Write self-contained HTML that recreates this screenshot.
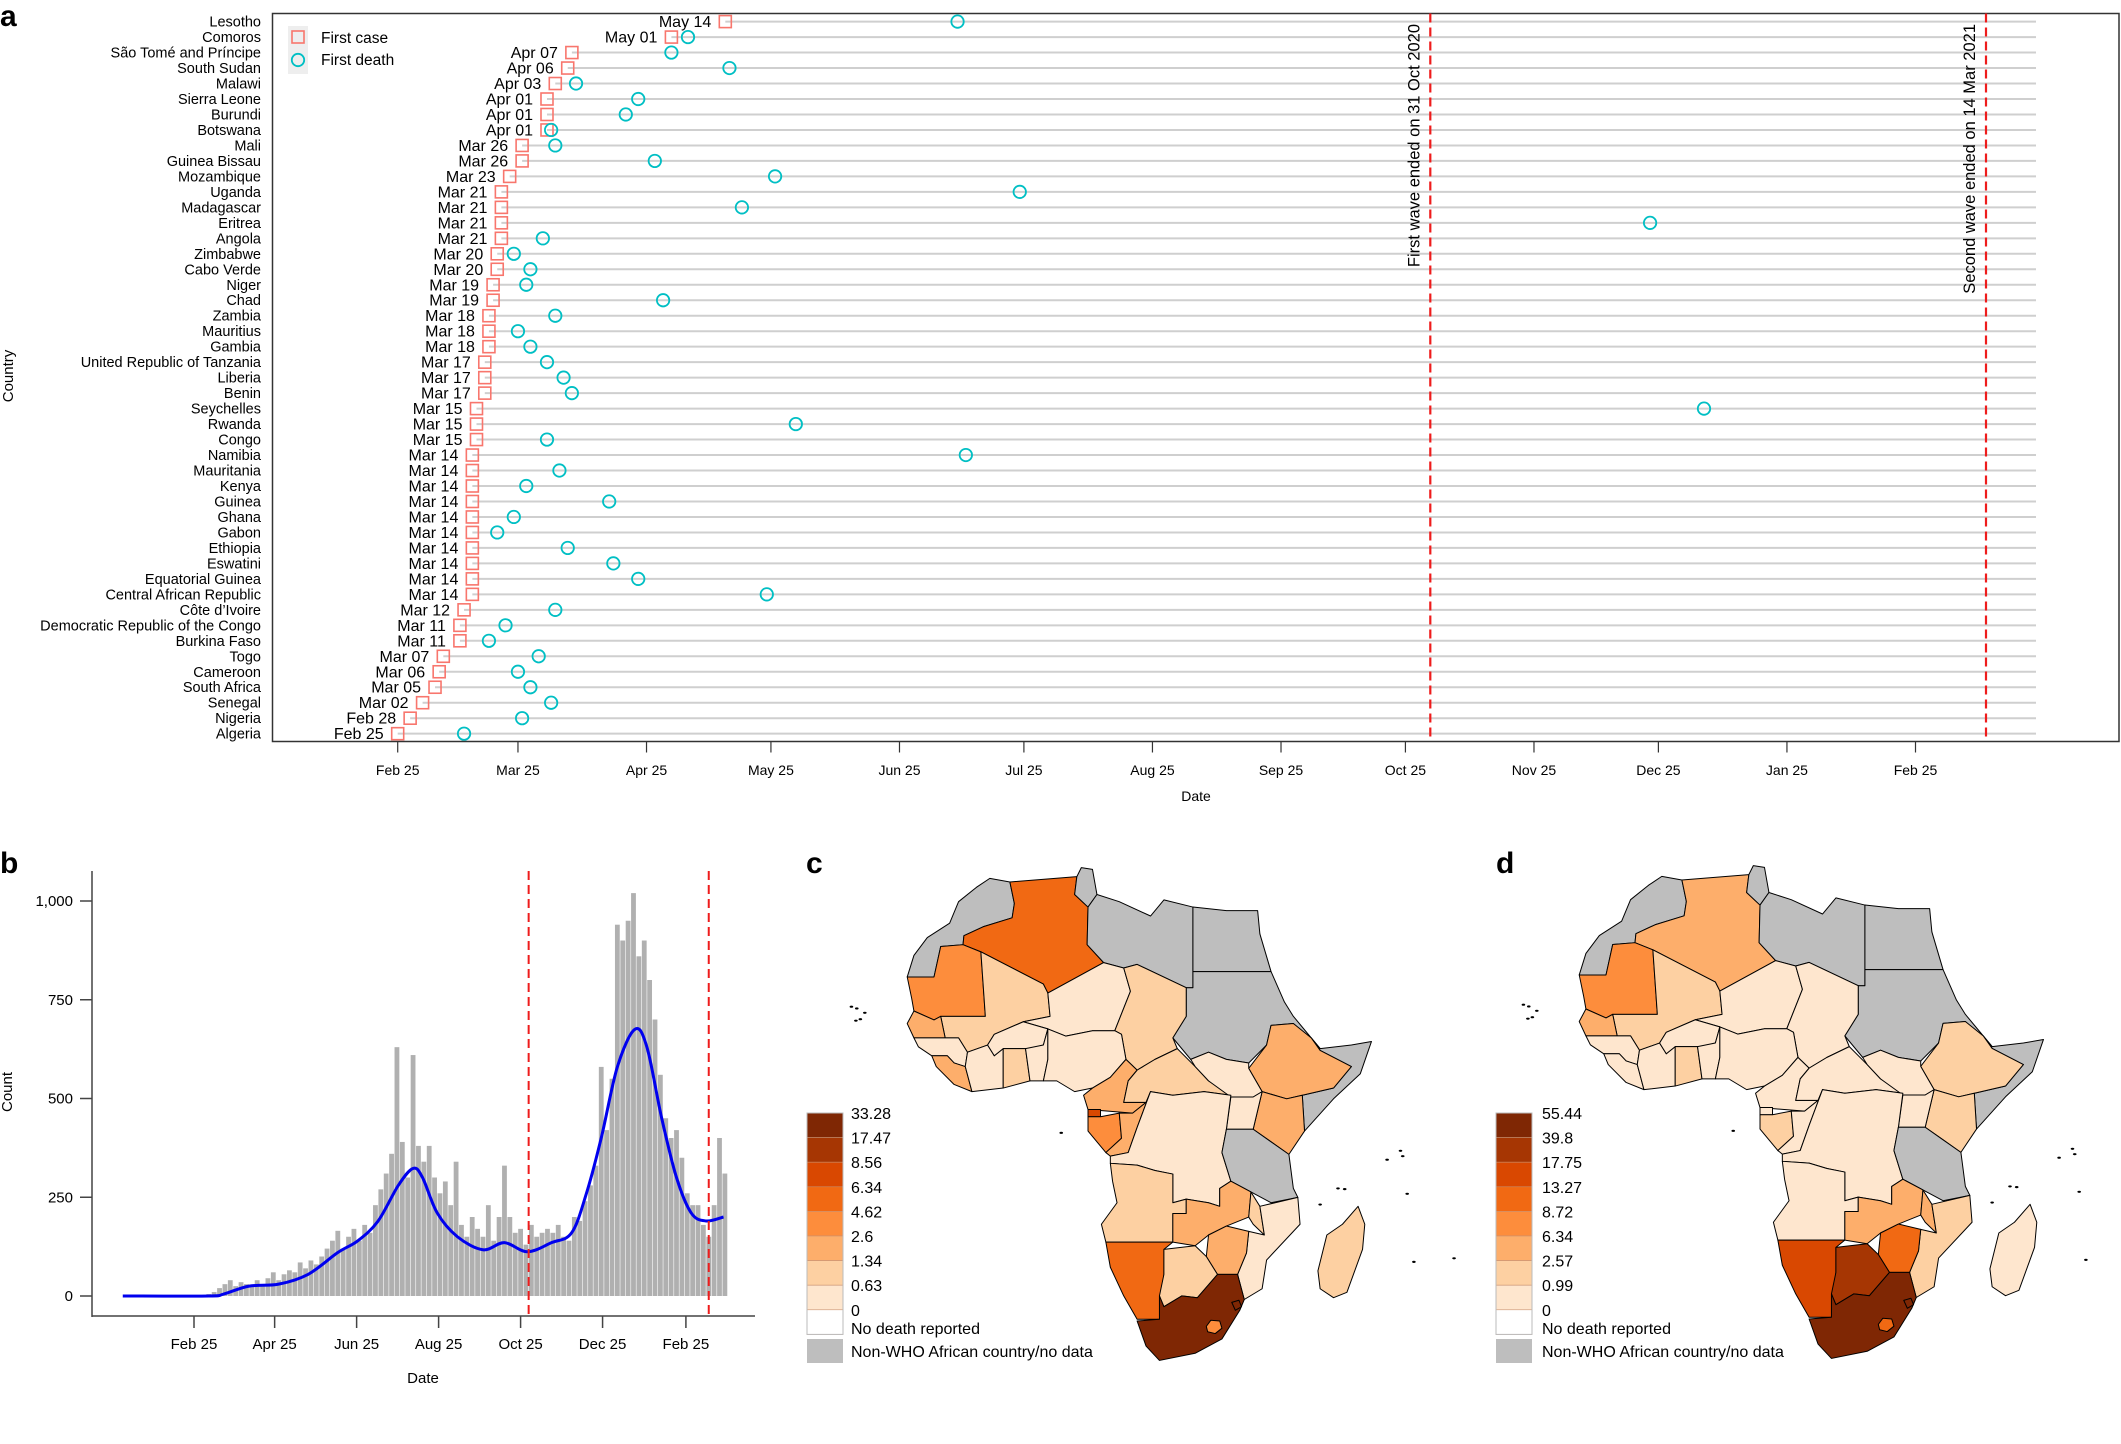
<!DOCTYPE html>
<html><head><meta charset="utf-8"><style>
html,body{margin:0;padding:0;background:#fff;}
svg{display:block;font-family:"Liberation Sans",sans-serif;}
</style></head><body>
<svg id="fig" width="2121" height="1444" viewBox="0 0 2121 1444" xmlns="http://www.w3.org/2000/svg">
<text x="0" y="26" font-size="30" font-weight="bold">a</text>
<text x="0" y="873" font-size="30" font-weight="bold">b</text>
<text x="806" y="873" font-size="30" font-weight="bold">c</text>
<text x="1496" y="873" font-size="30" font-weight="bold">d</text>
<g id="pa"></g>
<g id="pb"></g>
<g id="pc"></g>
<g id="pd"></g>
</svg>
<script>
// ---------- Panel a data ----------
const countries = ["Lesotho","Comoros","São Tomé and Príncipe","South Sudan","Malawi","Sierra Leone","Burundi","Botswana","Mali","Guinea Bissau","Mozambique","Uganda","Madagascar","Eritrea","Angola","Zimbabwe","Cabo Verde","Niger","Chad","Zambia","Mauritius","Gambia","United Republic of Tanzania","Liberia","Benin","Seychelles","Rwanda","Congo","Namibia","Mauritania","Kenya","Guinea","Ghana","Gabon","Ethiopia","Eswatini","Equatorial Guinea","Central African Republic","Côte d’Ivoire","Democratic Republic of the Congo","Burkina Faso","Togo","Cameroon","South Africa","Senegal","Nigeria","Algeria"];
const firstCase = ["May 14","May 01","Apr 07","Apr 06","Apr 03","Apr 01","Apr 01","Apr 01","Mar 26","Mar 26","Mar 23","Mar 21","Mar 21","Mar 21","Mar 21","Mar 20","Mar 20","Mar 19","Mar 19","Mar 18","Mar 18","Mar 18","Mar 17","Mar 17","Mar 17","Mar 15","Mar 15","Mar 15","Mar 14","Mar 14","Mar 14","Mar 14","Mar 14","Mar 14","Mar 14","Mar 14","Mar 14","Mar 14","Mar 12","Mar 11","Mar 11","Mar 07","Mar 06","Mar 05","Mar 02","Feb 28","Feb 25"];
// first death, days after 25 Feb 2020
const firstDeath = [135,70,66,80,43,58,55,37,38,62,91,150,83,302,35,28,32,31,64,38,29,32,36,40,42,315,96,36,137,39,31,51,28,24,41,52,58,89,38,26,22,34,29,32,37,30,16];
const aTickLabels = ["Feb 25","Mar 25","Apr 25","May 25","Jun 25","Jul 25","Aug 25","Sep 25","Oct 25","Nov 25","Dec 25","Jan 25","Feb 25"];
const aTickDays = [0,29,60,90,121,151,182,213,243,274,304,335,366];
const waveDays = [249,383];
const waveLabels = ["First wave ended on 31 Oct 2020","Second wave ended on 14 Mar 2021"];

// ---------- Panel b data ----------
const histStartDay = -53, histStep = 4;
const histCounts = [0,0,0,0,0,0,0,0,0,0,0,0,0,0,0,2,5,
10,20,30,40,25,35,30,28,40,30,45,60,40,55,65,60,85,70,90,80,100,120,140,165,120,150,170,140,180,160,230,270,310,360,630,390,300,610,380,340,380,300,260,290,230,340,180,150,200,170,150,230,140,200,330,200,160,170,130,180,150,160,170,160,180,150,140,200,190,240,280,330,580,420,550,940,900,950,1020,860,900,800,700,560,450,400,420,350,260,230,230,180,150,230,400,310];
const smoothDays = [-53,11,22,41,63,85,107,122,137,152,163,170,181,196,215,231,248,266,281,292,303,315,328,337,348,359,370,381,394];
const smoothVals = [0,0,5,25,30,55,110,140,190,280,323,300,210,150,117,135,112,135,160,260,400,580,675,630,450,300,210,190,200];
const bTickLabels = ["Feb 25","Apr 25","Jun 25","Aug  25","Oct 25","Dec 25","Feb 25"];
const bTickDays = [0,60,121,182,243,304,366];
const yTicks = [0,250,500,750,1000];
const yTickLabels = ["0","250","500","750","1,000"];

// ---------- Map data ----------
const cColors = ["#7f2704","#a63603","#d94801","#f16913","#fd8d3c","#fdae6b","#fdd0a2","#fee6ce","#ffffff"];
const cLegendLabels = ["33.28","17.47","8.56","6.34","4.62","2.6","1.34","0.63","0"];
const dLegendLabels = ["55.44","39.8","17.75","13.27","8.72","6.34","2.57","0.99","0"];
const mapNames = ["morocco","algeria","tunisia","libya","egypt","sudan","somalia","ethiopia","mauritania","mali","niger","chad","senegal","guinea","sierraliberia","cotedivoire","burkina","ghana","togobenin","nigeria","cameroon","car","southsudan","kenya","uganda","eqguinea","gabon","congo","drc","tanzania","angola","zambia","malawi","mozambique","zimbabwe","namibia","botswana","southafrica","lesotho","eswatini","madagascar"];
const cClass = [-1,3,-1,-1,-1,-1,-1,5,4,6,7,6,5,7,5,7,7,6,7,7,5,6,7,5,7,2,4,5,7,-1,6,5,6,7,5,3,6,0,4,0,6];
const dClass = [-1,5,-1,-1,-1,-1,-1,6,4,6,7,7,5,7,7,7,7,6,7,7,7,7,7,6,7,7,6,7,7,-1,7,5,5,6,3,2,1,0,3,0,7];

const NS="http://www.w3.org/2000/svg";
function mk(parent,tag,attrs,text){const e=document.createElementNS(NS,tag);for(const k in attrs)e.setAttribute(k,attrs[k]);if(text!==undefined)e.textContent=text;parent.appendChild(e);return e;}
const monthStart={Jan:0,Feb:31,Mar:60,Apr:91,May:121,Jun:152,Jul:182,Aug:213,Sep:244,Oct:274,Nov:305,Dec:335};
function dayOf(s){const p=s.split(" ");return monthStart[p[0]]+parseInt(p[1],10)-1-55;}

// ===== Panel a =====
(function(){
const g=document.getElementById('pa');
const xA=d=>397.7+d*4.147, rowY=i=>21.6+i*15.48;
const L=272.5,T=13.5,B=741.5,R=2119;
for(let i=0;i<countries.length;i++){
  const y=rowY(i), xc=xA(dayOf(firstCase[i])), xd=xA(firstDeath[i]);
  const gl=mk(g,'line',{x1:xc,y1:y,x2:2036,y2:y,stroke:'#cfcfcf','stroke-width':2});
  
  
  const lab=mk(g,'text',{x:261,y:y+5,'font-size':14.5,'text-anchor':'end'},countries[i]);
  
  
  const dl=mk(g,'text',{x:xc-14,y:y+5.5,'font-size':16,'text-anchor':'end'},firstCase[i]);
  
  
  const sq=mk(g,'rect',{x:xc-6,y:y-6,width:12,height:12,fill:'none',stroke:'#f8766d','stroke-width':1.6});
  
  
  const ci=mk(g,'circle',{cx:xd,cy:y,r:6.2,fill:'none',stroke:'#00bfc4','stroke-width':1.8});
  
  
}
const box=mk(g,'rect',{x:L,y:T,width:R-L,height:B-T,fill:'none',stroke:'#333','stroke-width':1.5});


for(let i=0;i<aTickDays.length;i++){
  const x=xA(aTickDays[i]);
  const t=mk(g,'line',{x1:x,y1:B,x2:x,y2:B+11,stroke:'#333','stroke-width':1.2});
  
  
  const tl=mk(g,'text',{x:x,y:775,'font-size':14,'text-anchor':'middle'},aTickLabels[i]);
  
  
}
for(let i=0;i<waveDays.length;i++){
  const x=xA(waveDays[i]);
  const wl=mk(g,'line',{x1:x,y1:T,x2:x,y2:B,stroke:'#ee1c1c','stroke-width':2.2,'stroke-dasharray':'9,5'});
  
  
  const wt=mk(g,'text',{x:0,y:0,'font-size':16.5,'text-anchor':'end',transform:`translate(${x-11},24) rotate(-90)`},waveLabels[i]);
  
  
}
const xt=mk(g,'text',{x:1196,y:801,'font-size':14,'text-anchor':'middle'},'Date');


const yt=mk(g,'text',{x:0,y:0,'font-size':15,'text-anchor':'middle',transform:'translate(13,376) rotate(-90)'},'Country');


const lg=mk(g,'g',{});


mk(lg,'rect',{x:288,y:26,width:20,height:48,fill:'#eeeeee'});
mk(lg,'rect',{x:292,y:31,width:12,height:12,fill:'none',stroke:'#f8766d','stroke-width':1.6});
mk(lg,'circle',{cx:298,cy:60,r:6.2,fill:'none',stroke:'#00bfc4','stroke-width':1.8});
const l1=mk(lg,'text',{x:321,y:43,'font-size':15.5},'First case');


const l2=mk(lg,'text',{x:321,y:65,'font-size':15.5},'First death');


})();

// ===== Panel b =====
(function(){
const g=document.getElementById('pb');
const xB=d=>194+d*1.344, yB=v=>1296-v*0.395;
for(let i=0;i<histCounts.length;i++){
  const d=histStartDay+i*histStep, v=histCounts[i];
  const r=mk(g,'rect',{x:xB(d)-2.4,y:yB(v),width:4.8,height:Math.max(0,1296-yB(v)),fill:'#b0b0b0'});
  
  
}
const pts=smoothDays.map((d,i)=>[xB(d),yB(smoothVals[i])]);
let p=`M${pts[0][0]},${pts[0][1]}`;
for(let i=0;i<pts.length-1;i++){
  const p0=pts[Math.max(0,i-1)],p1=pts[i],p2=pts[i+1],p3=pts[Math.min(pts.length-1,i+2)];
  const c1=[p1[0]+(p2[0]-p0[0])/6,p1[1]+(p2[1]-p0[1])/6],c2=[p2[0]-(p3[0]-p1[0])/6,p2[1]-(p3[1]-p1[1])/6];
  p+=` C${c1[0]},${c1[1]} ${c2[0]},${c2[1]} ${p2[0]},${p2[1]}`;
}
const sl=mk(g,'path',{d:p,fill:'none',stroke:'#0000ee','stroke-width':3});


for(const d of waveDays){
  const wl=mk(g,'line',{x1:xB(d),y1:871,x2:xB(d),y2:1316,stroke:'#ee1c1c','stroke-width':2,'stroke-dasharray':'9,5'});
  
  
}
const ya=mk(g,'line',{x1:92,y1:871,x2:92,y2:1317,stroke:'#444','stroke-width':1.5});


const xa=mk(g,'line',{x1:92,y1:1316,x2:755,y2:1316,stroke:'#444','stroke-width':1.5});


for(let i=0;i<yTicks.length;i++){
  const y=yB(yTicks[i]);
  mk(g,'line',{x1:80,y1:y,x2:92,y2:y,stroke:'#444','stroke-width':1.5});
  const t=mk(g,'text',{x:73,y:y+5,'font-size':15,'text-anchor':'end'},yTickLabels[i]);
  
  
}
for(let i=0;i<bTickDays.length;i++){
  const x=xB(bTickDays[i]);
  mk(g,'line',{x1:x,y1:1316,x2:x,y2:1328,stroke:'#444','stroke-width':1.5});
  const t=mk(g,'text',{x:x,y:1349,'font-size':15,'text-anchor':'middle'},bTickLabels[i]);
  
  
}
const xt=mk(g,'text',{x:423,y:1383,'font-size':15,'text-anchor':'middle'},'Date');


const yt=mk(g,'text',{x:0,y:0,'font-size':15,'text-anchor':'middle',transform:'translate(12,1092) rotate(-90)'},'Count');


})();

// ===== Maps =====
const shapes = {
morocco:"515,145 470,135 440,160 400,200 380,260 330,300 300,350 285,410 345,410 360,325 410,320 412,295 455,270 520,245 525,205",
algeria:"515,145 665,130 660,180 690,215 688,320 725,370 600,455 590,430 450,340 410,320 412,295 455,270 520,245 525,205",
tunisia:"665,130 675,105 700,110 710,180 690,215 660,180",
libya:"690,215 710,180 760,200 830,240 860,195 925,215 925,440 910,440 800,375 770,385 725,370 688,320",
egypt:"925,215 1000,225 1070,225 1075,290 1100,395 925,395",
sudan:"925,395 1100,395 1130,480 1150,520 1190,580 1210,610 1150,540 1100,545 1090,600 1050,650 1000,640 960,620 920,640 880,580 910,520 910,440 925,440",
somalia:"1190,580 1210,610 1280,600 1325,590 1300,680 1240,750 1175,840 1170,740 1240,720 1280,660 1210,615",
ethiopia:"1100,545 1150,540 1190,580 1210,615 1280,660 1240,720 1170,740 1135,750 1080,730 1050,665 1090,600",
mauritania:"285,410 345,410 360,325 410,320 450,340 460,520 360,520 345,530 300,505 295,470",
mali:"450,340 590,430 600,455 605,520 545,535 480,570 465,600 420,620 400,580 370,580 360,520 460,520",
niger:"600,455 725,370 770,385 785,450 750,560 700,560 640,575 600,555 545,535 605,520",
chad:"785,450 770,385 800,375 910,440 910,520 880,580 890,610 840,640 800,670 775,640 765,570 750,560",
senegal:"300,505 345,530 360,520 370,580 300,580 285,540",
guinea:"300,580 370,580 400,580 420,620 415,660 390,650 375,630 340,630 310,605",
sierraliberia:"340,630 375,630 390,650 415,660 430,730 390,710 350,660",
cotedivoire:"415,660 420,620 465,600 480,630 500,610 500,720 430,730",
burkina:"465,600 480,570 545,535 600,555 590,600 560,610 500,610 480,630",
ghana:"500,610 550,610 560,700 500,720",
togobenin:"550,610 590,600 600,555 600,640 590,700 560,700",
nigeria:"600,555 640,575 700,560 750,560 765,570 775,640 740,690 700,720 660,730 620,700 590,700 600,640",
cameroon:"775,640 800,670 780,700 770,760 820,760 790,790 690,780 680,740 700,720 740,690",
car:"800,670 840,640 890,610 930,660 960,700 1010,740 950,730 880,740 830,730 820,760 770,760 780,700",
southsudan:"920,640 960,620 1000,640 1050,650 1050,665 1080,730 1060,745 1010,745 960,700 930,660",
kenya:"1080,730 1135,750 1170,740 1175,840 1140,905 1100,870 1060,835",
uganda:"1010,745 1060,745 1080,730 1060,835 1000,835",
eqguinea:"690,780 718,780 718,800 690,800",
gabon:"690,800 718,800 760,790 765,860 730,900 690,840",
congo:"760,790 790,790 820,760 830,730 800,830 780,900 740,910 730,900 765,860",
drc:"830,730 880,740 950,730 1010,740 1000,835 990,900 1010,980 985,1000 985,1050 960,1040 910,1030 880,1040 880,960 840,950 800,935 740,930 740,910 780,900 800,830",
tanzania:"1000,835 1060,835 1100,870 1140,905 1150,1000 1160,1025 1100,1040 1055,1010 1010,980 990,900",
angola:"740,930 800,935 840,950 880,960 880,1040 910,1030 910,1070 880,1070 880,1150 820,1150 730,1150 720,1100 755,1040 745,980",
zambia:"880,1070 910,1070 910,1030 960,1040 985,1050 985,1000 1010,980 1055,1010 1050,1080 1000,1105 960,1130 930,1160 880,1150",
malawi:"1055,1010 1075,1050 1085,1130 1060,1100 1050,1080",
mozambique:"1075,1050 1160,1025 1165,1100 1090,1200 1080,1280 1040,1310 1025,1240 1045,1180 1050,1120 1085,1130",
zimbabwe:"960,1130 1000,1105 1050,1120 1045,1180 1025,1240 980,1240 955,1190",
namibia:"730,1150 820,1150 880,1150 860,1170 860,1240 850,1365 800,1365 770,1300 740,1220",
botswana:"860,1170 930,1160 955,1190 980,1240 935,1305 900,1300 860,1330 850,1300 860,1240",
southafrica:"850,1300 860,1330 900,1300 935,1305 980,1240 1025,1240 1040,1310 1030,1340 990,1420 930,1460 850,1480 820,1440 800,1370 850,1365",
lesotho:"955,1385 965,1368 985,1370 990,1390 975,1405 958,1400",
eswatini:"1012,1318 1028,1312 1034,1330 1020,1340",
madagascar:"1295,1050 1310,1100 1305,1170 1270,1290 1240,1305 1210,1280 1205,1230 1225,1130 1260,1100"
};
const islands=[[160,493],[172,498],[190,510],[180,528],[170,532],[1390,895],[1395,910],[1360,920],[1250,1000],[1265,1002],[1210,1045],[1420,1205],[1510,1195],[630,845],[1405,1015]];
function drawMap(id,tx,ty,cls,labels,lx,tlx){
  const g=document.getElementById(id);
  const m=mk(g,'g',{transform:`translate(${tx},${ty}) scale(0.4464,0.3584)`});
  for(let i=0;i<mapNames.length;i++){
    const c=cls[i];
    const poly=mk(m,'polygon',{points:shapes[mapNames[i]],fill:c<0?'#bebebe':cColors[c],stroke:'#000','stroke-width':1,'vector-effect':'non-scaling-stroke','stroke-linejoin':'round'});
    
    
  }
  for(const p of islands){mk(m,'ellipse',{cx:p[0],cy:p[1],rx:4,ry:3,fill:'#000'});}
  for(let i=0;i<cColors.length;i++){
    const y=1113+i*24.6;
    const r=mk(g,'rect',{x:lx,y:y,width:36,height:24.6,fill:cColors[i],stroke:'#c89070','stroke-width':0.6});
    
    
    const t=mk(g,'text',{x:tlx,y:y+6,'font-size':16},labels[i]);
    
    
  }
  mk(g,'rect',{x:lx,y:1113,width:36,height:221.4,fill:'none',stroke:'#bbb','stroke-width':1});
  const nd=mk(g,'text',{x:tlx,y:1334,'font-size':16},'No death reported');
  
  
  const gr=mk(g,'rect',{x:lx,y:1339,width:36,height:24,fill:'#bebebe'});
  
  
  const nw=mk(g,'text',{x:tlx,y:1357,'font-size':16},'Non-WHO African country/no data');
  
  
}
drawMap('pc',780,830,cClass,cLegendLabels,807,851);
drawMap('pd',1452,828,dClass,dLegendLabels,1496,1542);
</script>
</body></html>
